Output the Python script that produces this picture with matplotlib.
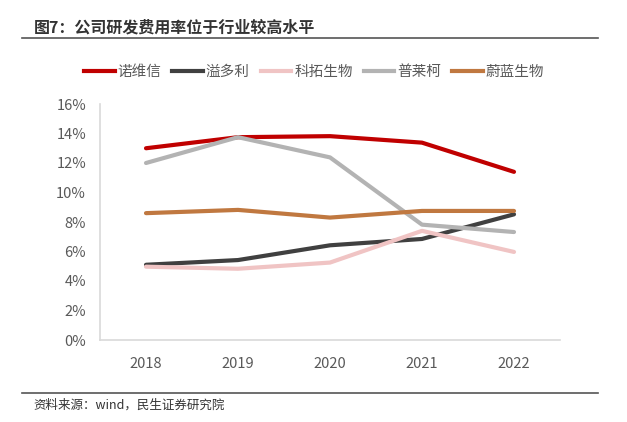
import matplotlib.pyplot as plt
from matplotlib.ticker import PercentFormatter
from matplotlib.lines import Line2D

plt.rcParams['font.family'] = ['Noto Sans CJK SC', 'DejaVu Sans']

years = ['2018', '2019', '2020', '2021', '2022']
novozymes = [13.0, 13.75, 13.82, 13.38, 11.4]
yiduoli = [5.1, 5.42, 6.42, 6.85, 8.52]
ketuo = [4.97, 4.83, 5.25, 7.4, 5.97]
pulaike = [12.0, 13.75, 12.38, 7.82, 7.32]
weilan = [8.6, 8.82, 8.3, 8.75, 8.75]

names = ['诺维信', '溢多利', '科拓生物', '普莱柯', '蔚蓝生物']
colors = ['#c00000', '#404040', '#f0c4c4', '#b3b3b3', '#c07840']
series = [novozymes, yiduoli, ketuo, pulaike, weilan]

fig = plt.figure(figsize=(6.27, 4.22), dpi=100)
ax = fig.add_axes([100 / 627, (422 - 340) / 422, 460 / 627, 236 / 422])

x = range(len(years))
for vals, c in zip(series, colors):
    ax.plot(x, vals, color=c, lw=3, solid_capstyle='round')

ax.set_xlim(-0.5, 4.5)
ax.set_ylim(0, 16)
ax.set_yticks(range(0, 17, 2))
ax.yaxis.set_major_formatter(PercentFormatter(decimals=0))
ax.set_xticks(list(x))
ax.set_xticklabels(years)
ax.tick_params(length=0, labelsize=10.5, labelcolor='#595959')
ax.tick_params(axis='x', pad=12)
ax.tick_params(axis='y', pad=10)
for s in ['top', 'right']:
    ax.spines[s].set_visible(False)
for s in ['left', 'bottom']:
    ax.spines[s].set_color('#d9d9d9')
    ax.spines[s].set_linewidth(1.2)

handles = [Line2D([], [], color=c, lw=3) for c in colors]
fig.legend(handles, names, loc='center', bbox_to_anchor=(314 / 627, 1 - 72 / 422),
           ncol=5, frameon=False, fontsize=10.5, handlelength=2.1, handletextpad=0.2,
           columnspacing=0.75, labelcolor='#595959')

fig.text(34 / 627, 1 - 28 / 422, '图7：公司研发费用率位于行业较高水平', fontsize=11.5,
         fontweight='bold', color='#333333', va='center')
fig.add_artist(Line2D([22 / 627, 598 / 627], [1 - 38 / 422] * 2, color='#555555', lw=1.2))
fig.add_artist(Line2D([22 / 627, 598 / 627], [1 - 393 / 422] * 2, color='#555555', lw=1.2))
fig.text(33 / 627, 1 - 405 / 422, '资料来源：wind，民生证券研究院', fontsize=9,
         color='#333333', va='center')

fig.savefig('out.png', dpi=100)
